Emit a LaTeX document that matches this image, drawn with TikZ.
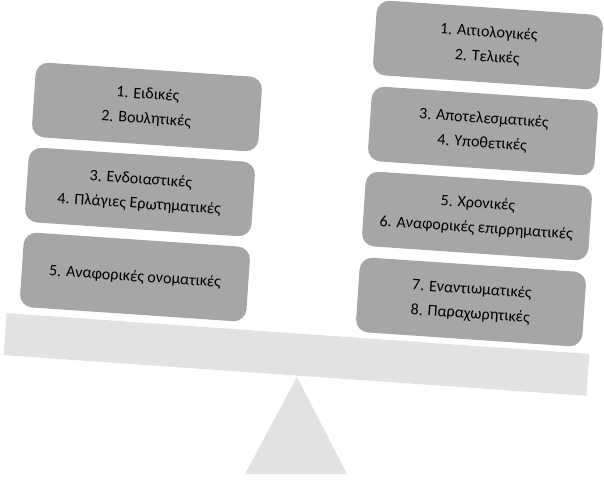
\documentclass[tikz,border=0pt]{standalone}
\usepackage{fontspec}
\setmainfont{Carlito}
\definecolor{boxgray}{HTML}{A6A6A6}
\definecolor{beamgray}{HTML}{E2E2E2}
\tikzset{
  clause/.style={fill=boxgray, rounded corners=9pt, minimum width=5.67cm, minimum height=1.87cm,
    rotate=-3.9, align=center, font=\fontsize{11.4}{17.5}\selectfont, text=black, inner sep=0pt},
  beam/.style={fill=beamgray, minimum width=14.6cm, minimum height=1.05cm, rotate=-4.0, inner sep=0pt}
}
\begin{document}
\begin{tikzpicture}[x=0.025cm, y=-0.025cm]
            \useasboundingbox (0,0) rectangle (604,480);
            \coordinate (T) at (297,377);
            \coordinate (TL) at (245,474);
            \coordinate (TR) at (347,474);
            \fill[beamgray] (T) -- (TL) -- (TR) -- cycle;
            \node[beam] (beam) at (296.5,354.5) {};
            \node[clause] (l1) at (147,107) {1. Ειδικές\\2. Βουλητικές};
            \node[clause] (l2) at (140,192) {3. Ενδοιαστικές\\4. Πλάγιες Ερωτηματικές};
            \node[clause] (l3) at (135,277) {5. Αναφορικές ονοματικές};
            \node[clause] (r1) at (488,45) {1. Αιτιολογικές\\2. Τελικές};
            \node[clause] (r2) at (483,131) {3. Αποτελεσματικές\\4. Υποθετικές};
            \node[clause] (r3) at (477,216) {5. Χρονικές\\6. Αναφορικές επιρρηματικές};
            \node[clause] (r4) at (471,302) {7. Εναντιωματικές\\8. Παραχωρητικές};
        \end{tikzpicture}
\end{document}
